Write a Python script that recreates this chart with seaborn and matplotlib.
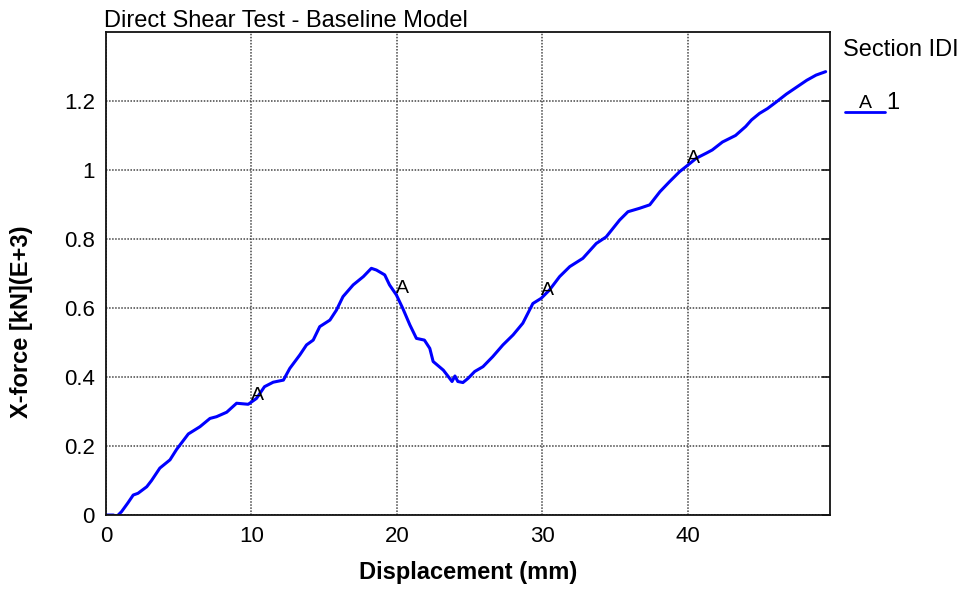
import numpy as np
import pandas as pd
import matplotlib
matplotlib.use("Agg")
import matplotlib.pyplot as plt
from matplotlib.lines import Line2D
from matplotlib.ticker import FixedLocator, FuncFormatter
import seaborn as sns

displacement = [0, 0.5, 0.74, 1.07, 1.5, 1.87, 2.2, 2.8, 3.13, 3.7, 4.4, 4.85, 5.66, 6.46,
                7.15, 7.6, 8.3, 8.98, 9.78, 10.35, 10.9, 11.5, 12.2, 12.64, 13.33, 13.79,
                14.25, 14.7, 15.4, 15.85, 16.3, 17.0, 17.7, 18.25, 18.6, 19.17, 19.5, 19.97,
                20.4, 20.9, 21.35, 21.9, 22.27, 22.5, 23.2, 23.64, 23.8, 24.0, 24.2, 24.55,
                24.9, 25.36, 25.93, 26.6, 27.3, 28.0, 28.67, 29.36, 29.93, 30.5, 31.2, 31.9,
                32.8, 33.72, 34.4, 35.33, 35.9, 36.7, 37.4, 38.1, 38.76, 39.45, 39.9, 40.6,
                41.3, 41.7, 42.4, 43.3, 44.0, 44.4, 44.95, 45.5, 46.1, 46.8, 47.5, 48.2,
                48.84, 49.5]
xforce = [0, 0, -0.004, 0.01, 0.035, 0.058, 0.063, 0.082, 0.10, 0.136, 0.16, 0.19, 0.235,
          0.256, 0.28, 0.285, 0.298, 0.324, 0.321, 0.338, 0.372, 0.385, 0.391, 0.425, 0.464,
          0.493, 0.507, 0.546, 0.565, 0.594, 0.633, 0.667, 0.691, 0.715, 0.71, 0.696, 0.667,
          0.638, 0.6, 0.551, 0.512, 0.507, 0.483, 0.445, 0.42, 0.396, 0.387, 0.403, 0.387,
          0.384, 0.396, 0.416, 0.43, 0.459, 0.493, 0.522, 0.556, 0.613, 0.628, 0.652, 0.691,
          0.72, 0.744, 0.787, 0.806, 0.855, 0.879, 0.889, 0.899, 0.937, 0.966, 0.995, 1.01,
          1.034, 1.049, 1.058, 1.081, 1.10, 1.126, 1.145, 1.164, 1.178, 1.197, 1.22, 1.24,
          1.26, 1.275, 1.285]
x_ticks = [0, 10, 20, 30, 40]
y_ticks = [0, 0.2, 0.4, 0.6, 0.8, 1.0, 1.2]
marker_x = [10, 20, 30, 40]
marker_label = "A"
series_name = "1"
legend_title = "Section IDI"
title = "Direct Shear Test - Baseline Model"
xlabel = "Displacement (mm)"
ylabel = "X-force [kN](E+3)"

sns.set_style("white")
plt.rcParams['font.family'] = ['Liberation Sans', 'DejaVu Sans']
plt.rcParams['text.color'] = 'black'

df = pd.DataFrame({"x": displacement, "y": xforce})

fig = plt.figure(figsize=(9.64, 5.92), dpi=100)
ax = fig.add_axes([0.110, 0.130, 0.751, 0.816])

sns.lineplot(data=df, x="x", y="y", ax=ax, sort=False, estimator=None,
             color="#0000ff", linewidth=2.2)

ax.set_xlim(0, 49.8)
ax.set_ylim(0, 1.4)
ax.xaxis.set_major_locator(FixedLocator(x_ticks))
ax.xaxis.set_minor_locator(FixedLocator([5, 15, 25, 35, 45]))
ax.yaxis.set_major_locator(FixedLocator(y_ticks))
ax.yaxis.set_minor_locator(FixedLocator([0.1, 0.3, 0.5, 0.7, 0.9, 1.1, 1.3]))

def yfmt(v, pos):
    if abs(v) < 1e-9:
        return "0"
    if abs(v - round(v)) < 1e-9:
        return str(int(round(v)))
    return f"{v:.1f}"
ax.yaxis.set_major_formatter(FuncFormatter(yfmt))

ax.grid(True, which="major", color="#444444", linestyle=(0, (1, 1)), linewidth=1.1)
for s in ax.spines.values():
    s.set_color("#111111")
    s.set_linewidth(1.3)

ax.tick_params(axis="both", which="major", direction="inout", length=10, width=1.1,
               labelsize=16, colors="#111111", labelcolor="black", pad=3)
ax.tick_params(axis="both", which="minor", direction="in", length=6, width=1.1, colors="#111111")

sec = ax.secondary_yaxis("right")
sec.yaxis.set_major_locator(FixedLocator(y_ticks))
sec.tick_params(direction="in", length=6, width=1.3, colors="#111111", labelright=False)
sec.spines["right"].set_visible(False)

ax.set_xlabel(xlabel, fontsize=17, fontweight="bold", labelpad=10, color="black")
ax.set_ylabel(ylabel, fontsize=17, fontweight="bold", color="black")
ax.yaxis.set_label_coords(-0.101, 0.40)
ax.set_title(title, loc="left", fontsize=17, pad=1, x=-0.003, color="black")

marker_y = np.interp(marker_x, displacement, xforce)
for mx, my in zip(marker_x, marker_y):
    ax.annotate(marker_label, (mx, my), xytext=(4, 5), textcoords="offset points",
                ha="center", va="center", fontsize=14, color="black")

# legend (drawn in figure pixels)
W, H = 964, 592
fig.text(843 / W, 1 - 50 / H, legend_title, fontsize=17, ha="left", va="center")
fig.add_artist(Line2D([845 / W, 885 / W], [1 - 112 / H, 1 - 112 / H],
                      color="#0000ff", linewidth=2, transform=fig.transFigure))
fig.text(865 / W, 1 - 103 / H, marker_label, fontsize=14, ha="center", va="center")
fig.text(886 / W, 1 - 103 / H, series_name, fontsize=17, ha="left", va="center")

fig.savefig("out.png", dpi=100)
